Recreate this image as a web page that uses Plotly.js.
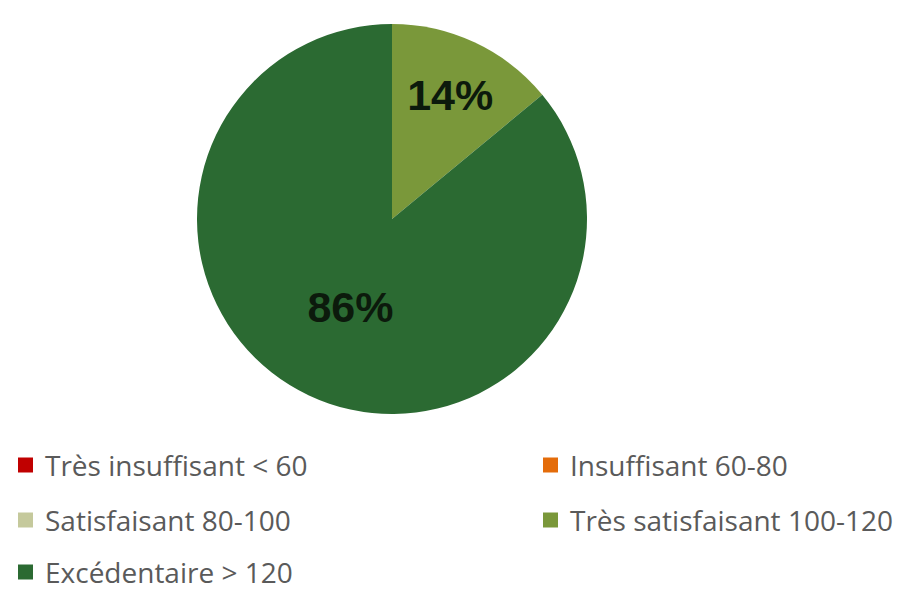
<!DOCTYPE html>
<html>
<head>
<meta charset="utf-8">
<script src="https://cdn.plot.ly/plotly-3.0.1.min.js"></script>
<style>html,body{margin:0;padding:0;background:#fff;}#chart{width:905px;height:590px;}</style>
</head>
<body>
<div id="chart"></div>
<script>
const categories = ["Très insuffisant < 60", "Insuffisant 60-80", "Satisfaisant 80-100", "Très satisfaisant 100-120", "Excédentaire > 120"];
const shares = [0, 0, 0, 14, 86];
const colors = ["#c00000", "#e46c0a", "#c5c99c", "#7a983a", "#2b6a32"];

const W = 905, H = 590;
const cx = 392, cy = 219, R = 195;

const texts = shares.map(v => v > 0 ? "%{percent:.0%}" : "");

const trace = {
  type: "pie",
  labels: categories,
  values: shares,
  marker: {colors: colors, line: {width: 0}},
  sort: false,
  direction: "clockwise",
  rotation: 0,
  texttemplate: texts,
  textposition: "inside",
  insidetextorientation: "horizontal",
  textfont: {family: "Liberation Sans, Arial, sans-serif", size: 43, color: "#0c1a0c", weight: "bold"},
  showlegend: false,
  hoverinfo: "label+percent",
  domain: {x: [(cx - R) / W, (cx + R) / W], y: [1 - (cy + R) / H, 1 - (cy - R) / H]}
};

// legend drawn as shapes + annotations, two columns
const colX = [18, 543];
const rowY = [465, 520, 572];
const sq = 15;
const shapes = [], annotations = [];
categories.forEach((c, i) => {
  const col = i % 2, row = Math.floor(i / 2);
  const x0 = colX[col], yc = rowY[row];
  shapes.push({type: "rect", xref: "paper", yref: "paper",
    x0: x0 / W, x1: (x0 + sq) / W, y0: 1 - (yc + sq / 2) / H, y1: 1 - (yc - sq / 2) / H,
    fillcolor: colors[i], line: {width: 0}});
  annotations.push({xref: "paper", yref: "paper", x: (x0 + sq + 11) / W, y: 1 - yc / H,
    xanchor: "left", yanchor: "middle", showarrow: false, text: c, borderpad: 0,
    font: {family: "Open Sans, sans-serif", size: 28, color: "#5a5a5a"}});
});

const layout = {
  width: W, height: H,
  margin: {l: 0, r: 0, t: 0, b: 0},
  paper_bgcolor: "#ffffff",
  showlegend: false,
  shapes: shapes,
  annotations: annotations
};

Plotly.newPlot("chart", [trace], layout, {displayModeBar: false, staticPlot: true});
</script>
</body>
</html>
